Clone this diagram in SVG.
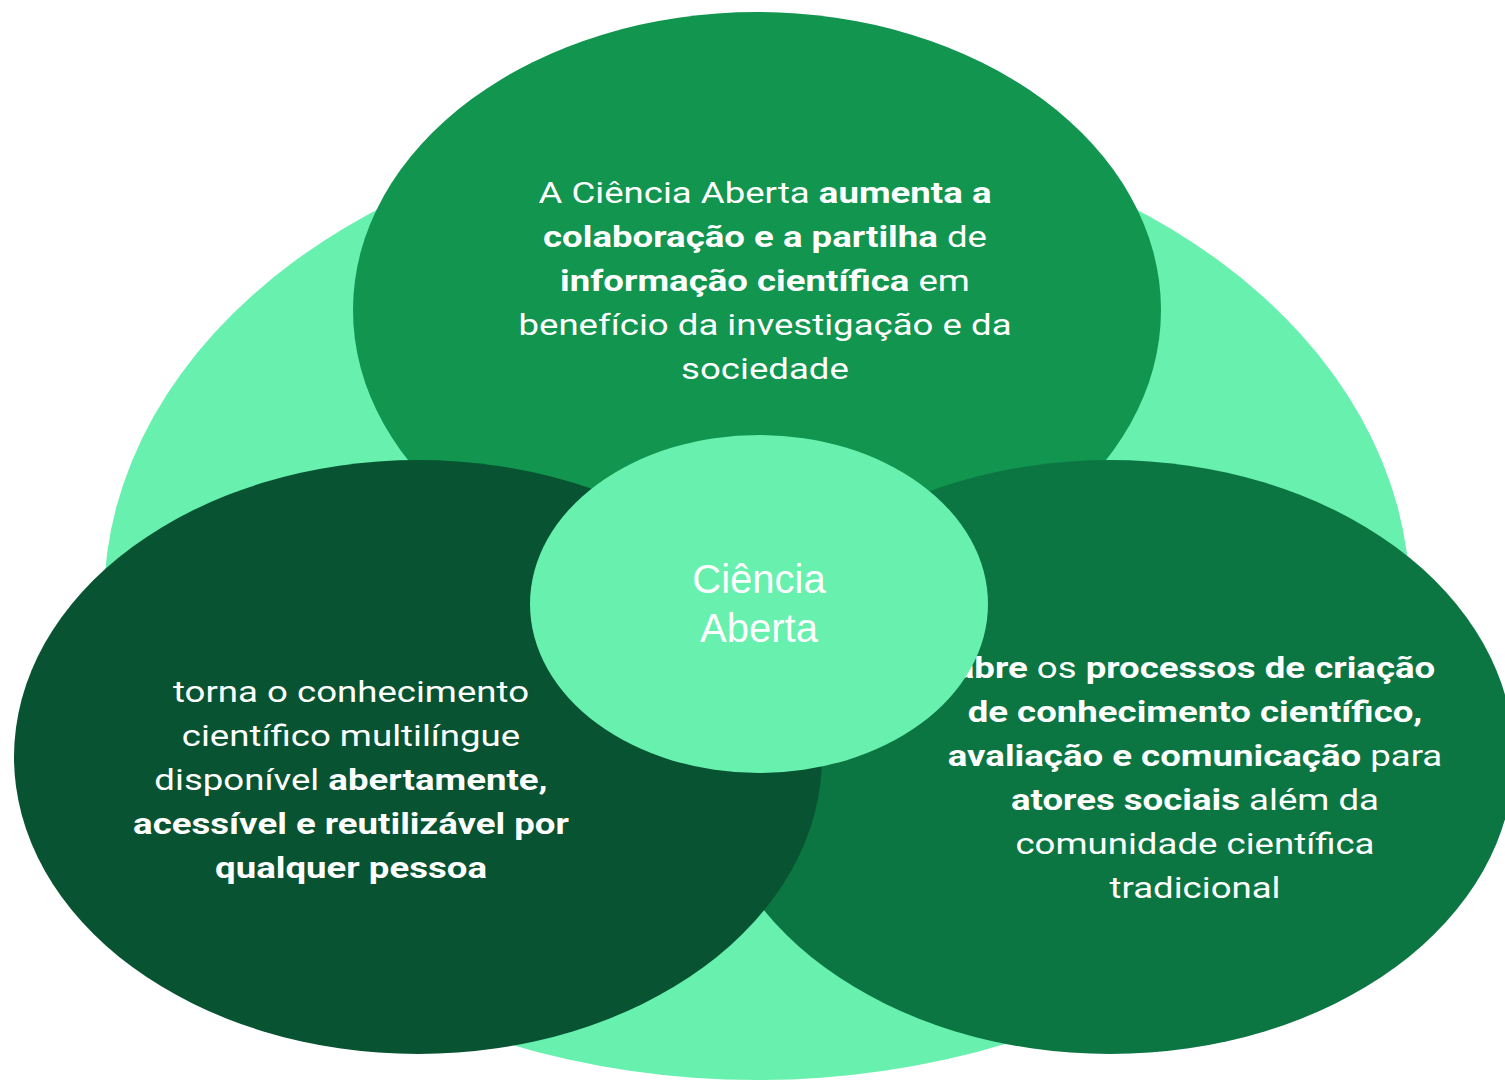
<svg xmlns="http://www.w3.org/2000/svg" width="1505" height="1081" viewBox="0 0 1505 1081">
<style>
.t{font-family:Roboto,"Liberation Sans",sans-serif;font-size:30px;fill:#ffffff;text-anchor:middle}
.b{font-weight:700}
.c{font-family:"Liberation Sans",Arial,sans-serif;font-size:40px;fill:#ffffff;text-anchor:middle}
</style>
<rect width="1505" height="1081" fill="#ffffff"/>
<g id="background"><ellipse cx="757" cy="600" rx="653" ry="480" fill="#67f0ae"/></g>
<g id="top">
<ellipse cx="757" cy="310" rx="404" ry="298" fill="#11954f"/>
<g transform="translate(765,0) scale(1.22,1)">
<text class="t" x="0" y="203">A Ciência Aberta <tspan class="b">aumenta a</tspan></text>
<text class="t" x="0" y="247"><tspan class="b">colaboração e a partilha</tspan> de</text>
<text class="t" x="0" y="291"><tspan class="b">informação científica</tspan> em</text>
<text class="t" x="0" y="335">benefício da investigação e da</text>
<text class="t" x="0" y="379">sociedade</text>
</g>
</g>
<g id="right">
<ellipse cx="1110" cy="757" rx="404" ry="297" fill="#0c7643"/>
<g transform="translate(1195,0) scale(1.22,1)">
<text class="t" x="0" y="678"><tspan class="b">abre</tspan> os <tspan class="b">processos de criação</tspan></text>
<text class="t b" x="0" y="722">de conhecimento científico,</text>
<text class="t" x="0" y="766"><tspan class="b">avaliação e comunicação</tspan> para</text>
<text class="t" x="0" y="810"><tspan class="b">atores sociais</tspan> além da</text>
<text class="t" x="0" y="854">comunidade científica</text>
<text class="t" x="0" y="898">tradicional</text>
</g>
</g>
<g id="left">
<ellipse cx="418" cy="757" rx="404" ry="297" fill="#085331"/>
<g transform="translate(351,0) scale(1.22,1)">
<text class="t" x="0" y="702">torna o conhecimento</text>
<text class="t" x="0" y="746">científico multilíngue</text>
<text class="t" x="0" y="790">disponível <tspan class="b">abertamente,</tspan></text>
<text class="t b" x="0" y="834">acessível e reutilizável por</text>
<text class="t b" x="0" y="878">qualquer pessoa</text>
</g>
</g>
<g id="center">
<ellipse cx="759" cy="604" rx="229" ry="169" fill="#67f0ae"/>
<text class="c" x="759" y="593">Ciência</text>
<text class="c" x="759" y="642">Aberta</text>
</g>
<g id="connectors"/>
</svg>
